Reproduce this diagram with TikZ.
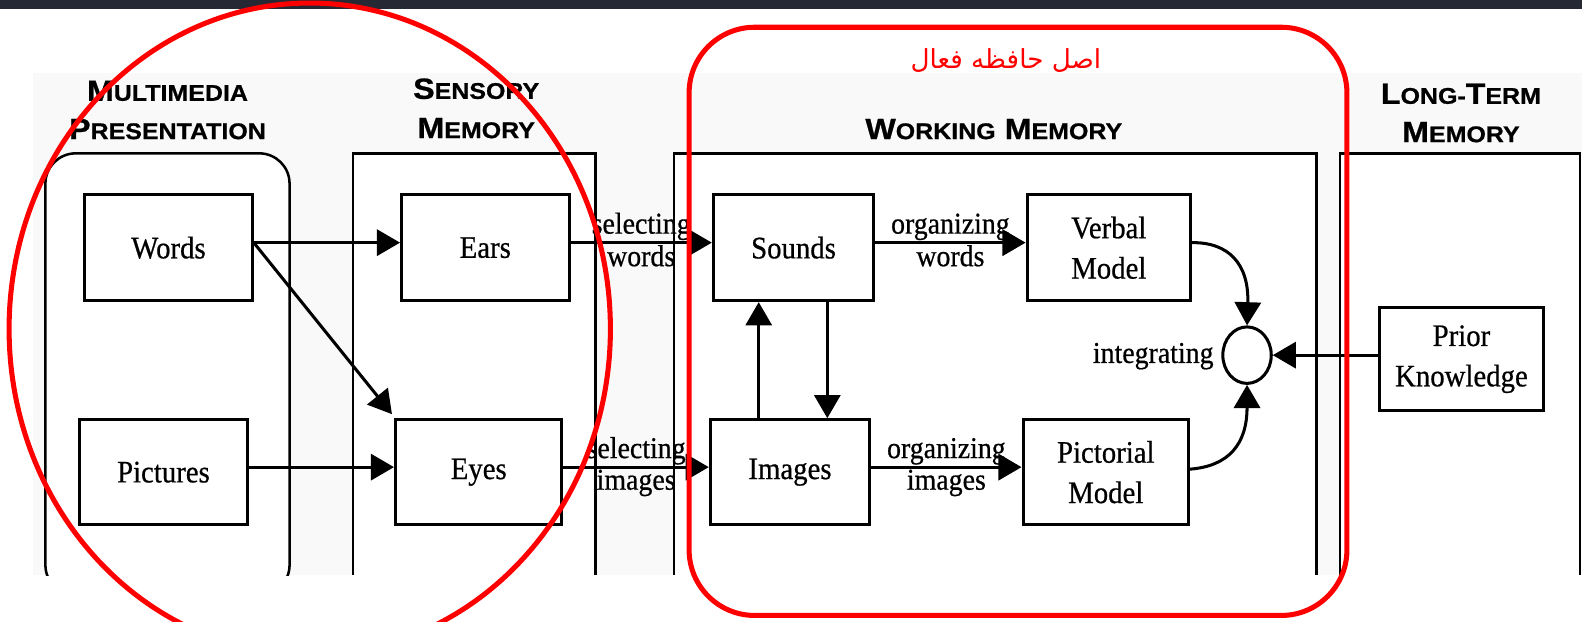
\documentclass[tikz,border=0pt]{standalone}
\usepackage{fontspec}
\setmainfont[FakeStretch=0.92,FakeBold=0.6]{Liberation Serif}
\newfontfamily\hdrfont[FakeStretch=1.1,FakeBold=0.8]{Liberation Sans Bold}
\newfontfamily\arabicfont[Script=Arabic]{DejaVu Sans}
\TeXXeTstate=1
\usetikzlibrary{arrows.meta,shapes.geometric}
\definecolor{darkbar}{RGB}{38,40,51}
\definecolor{figbg}{RGB}{249,249,249}
\definecolor{annred}{RGB}{255,0,0}
\newcommand\hdr[2]{{\fontsize{29}{29}\selectfont #1}{\fontsize{22.5}{22.5}\selectfont #2}}
\tikzset{
  box/.style={draw, fill=white, line width=3pt, inner sep=0pt, align=center,
    minimum height=105pt, font=\fontsize{31}{40}\selectfont},
  frame/.style={line width=2.5pt},
  hdrtext/.style={font=\hdrfont, inner sep=0pt, anchor=center},
  arr/.style={line width=3pt, -{Triangle[length=23pt,width=26pt]}},
  lbl/.style={font=\fontsize{30}{30}\selectfont, inner sep=1pt},
  redmark/.style={draw=annred, line width=5pt}
}
\begin{document}
\begin{tikzpicture}[x=1pt,y=-1pt]
\useasboundingbox (0,0) rectangle (1568,616);
\fill[white] (0,0) rectangle (1568,616);
\fill[darkbar] (0,0) rectangle (1568,8.5);
\fill[figbg] (33,72) rectangle (1568,570);

% column frames
\begin{scope}
\clip (0,0) rectangle (1568,570);
\draw[frame, fill=white, rounded corners=30pt] (45,152) rectangle (287,590);
\end{scope}
\fill[white] (350,152) rectangle (590,570);
\draw[frame] (350,570) -- (350,152) -- (590,152) -- (590,570);
\fill[white] (668,152) rectangle (1305,570);
\draw[frame] (668,570) -- (668,152) -- (1305,152) -- (1305,570);
\fill[white] (1328,152) rectangle (1568,570);
\draw[frame] (1328,570) -- (1328,152) -- (1566,152) -- (1566,570);

% headers
\node[hdrtext] (h1a) at (166,90) {\hdr{M}{ULTIMEDIA}};
\node[hdrtext] (h1b) at (166,128) {\hdr{P}{RESENTATION}};
\node[hdrtext] (h2a) at (472,88) {\hdr{S}{ENSORY}};
\node[hdrtext] (h2b) at (472,127) {\hdr{M}{EMORY}};
\node[hdrtext] (h3) at (985,128) {\hdr{W}{ORKING}\hspace{9pt}\hdr{M}{EMORY}};
\node[hdrtext] (h4a) at (1448,93) {\hdr{L}{ONG-}\hdr{T}{ERM}};
\node[hdrtext] (h4b) at (1448,131) {\hdr{M}{EMORY}};

% boxes
\node[box, minimum width=166pt] (words) at (167,245.5) {Words};
\node[box, minimum width=166pt, minimum height=104pt] (pictures) at (162,468) {Pictures};
\node[box, minimum width=166pt] (ears) at (481,245.5) {Ears};
\node[box, minimum width=165pt, minimum height=104pt] (eyes) at (474.5,468) {Eyes};
\node[box, minimum width=159pt] (sounds) at (786.5,245.5) {Sounds};
\node[box, minimum width=162pt] (verbal) at (1099,245.5) {Verbal\\Model};
\node[box, minimum width=158pt, minimum height=104pt] (images) at (783,468) {Images};
\node[box, minimum width=164pt, minimum height=104pt] (pictorial) at (1096,468) {Pictorial\\Model};
\node[box, minimum width=163pt, minimum height=102pt] (prior) at (1448.5,356) {Prior\\Knowledge};
\node[draw, ellipse, line width=3pt, minimum width=48pt, minimum height=56pt, inner sep=0pt] (circ) at (1236,352) {};
\node[lbl, anchor=east] (integ) at (1204,353) {integrating};

\coordinate (c1) at (752,0);
\coordinate (c2) at (820,0);

% arrows
\draw[arr] ([yshift=5pt]words.east) -- ([yshift=5pt]ears.west);
\draw[arr] ([yshift=5pt]words.east) -- ([shift={(-2pt,4pt)}]eyes.north west);
\draw[arr] ([yshift=5pt]pictures.east) -- ([yshift=5pt]eyes.west);
\draw[arr] ([yshift=5pt]ears.east) -- node[lbl, above, inner sep=1pt] (sel1) {selecting} node[lbl, below, inner sep=1pt] (wrd1) {words} ([yshift=5pt]sounds.west);
\draw[arr] ([yshift=5pt]eyes.east) -- node[lbl, above, inner sep=1pt] (sel2) {selecting} node[lbl, below, inner sep=1pt] (img1) {images} ([yshift=5pt]images.west);
\draw[arr] ([yshift=5pt]sounds.east) -- node[lbl, above, inner sep=1pt] (org1) {organizing} node[lbl, below, inner sep=1pt] (wrd2) {words} ([yshift=5pt]verbal.west);
\draw[arr] ([yshift=5pt]images.east) -- node[lbl, above, inner sep=1pt] (org2) {organizing} node[lbl, below, inner sep=1pt] (img2) {images} ([yshift=5pt]pictorial.west);
\draw[arr, line width=2.5pt] (images.north -| c1) -- (sounds.south -| c1);
\draw[arr, line width=2.5pt] (sounds.south -| c2) -- (images.north -| c2);
\draw[arr] ([yshift=5pt]verbal.east) .. controls (1218,240) and (1238,262) .. (circ.north);
\draw[arr] ([yshift=3pt]pictorial.east) .. controls (1218,462) and (1236,440) .. (circ.south);
\draw[arr] ([yshift=4pt]prior.west) -- (circ.east);

% red annotations
\draw[redmark] (307,326) ellipse [x radius=298, y radius=323];
\draw[redmark, rounded corners=65pt] (683,27) rectangle (1335,610);
\node[text=annred, font=\fontsize{26}{26}\selectfont\arabicfont, inner sep=0pt] (fa) at (997,60) {\beginR اصل حافظه فعال\endR};
\end{tikzpicture}
\end{document}
